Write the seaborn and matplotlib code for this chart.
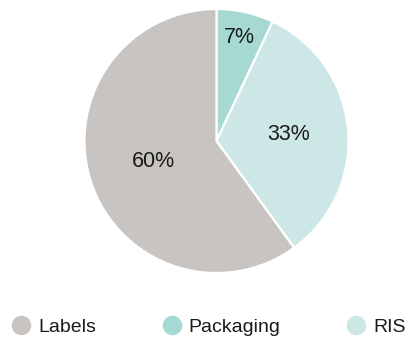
import numpy as np
import seaborn as sns
import matplotlib.pyplot as plt
from matplotlib.lines import Line2D

# Data (drawn clockwise from 12 o'clock)
categories = ["Packaging", "RIS", "Labels"]
shares = [7, 33, 60]
colors = ["#a6d9d2", "#cce7e5", "#c8c4c2"]
legend_order = ["Labels", "Packaging", "RIS"]
label_dist = [0.80, 0.55, 0.50]

sns.set_style("white")
plt.rcParams['font.family'] = ['Liberation Sans', 'DejaVu Sans']

fig = plt.figure(figsize=(4.05, 3.41), dpi=100)
ax = fig.add_axes([0.2086, 0.1994, 0.6519, 0.7742])

wedges, texts, autotexts = ax.pie(
    shares, colors=colors, startangle=90, counterclock=False,
    autopct=lambda p: f"{p:.0f}%",
    wedgeprops=dict(edgecolor="white", linewidth=1.6),
    textprops=dict(fontsize=15.5, color="#1a1a1a"),
)

# per-slice label distance
for w, t, d in zip(wedges, autotexts, label_dist):
    ang = np.deg2rad((w.theta1 + w.theta2) / 2)
    t.set_position((d * np.cos(ang), d * np.sin(ang)))

ax.set_xlim(-1, 1)
ax.set_ylim(-1, 1)
ax.set_aspect("equal")
ax.axis("off")

cmap = dict(zip(categories, colors))
handles = [Line2D([], [], marker="o", linestyle="", markersize=13,
                  markerfacecolor=cmap[c], markeredgecolor=cmap[c])
           for c in legend_order]
fig.legend(handles, legend_order, loc="center", bbox_to_anchor=(0.515, 0.041),
           ncol=3, frameon=False, fontsize=14, handlelength=1.0,
           handletextpad=0.38, columnspacing=3.4, labelcolor="#1a1a1a")

fig.savefig("out.png", dpi=100)
